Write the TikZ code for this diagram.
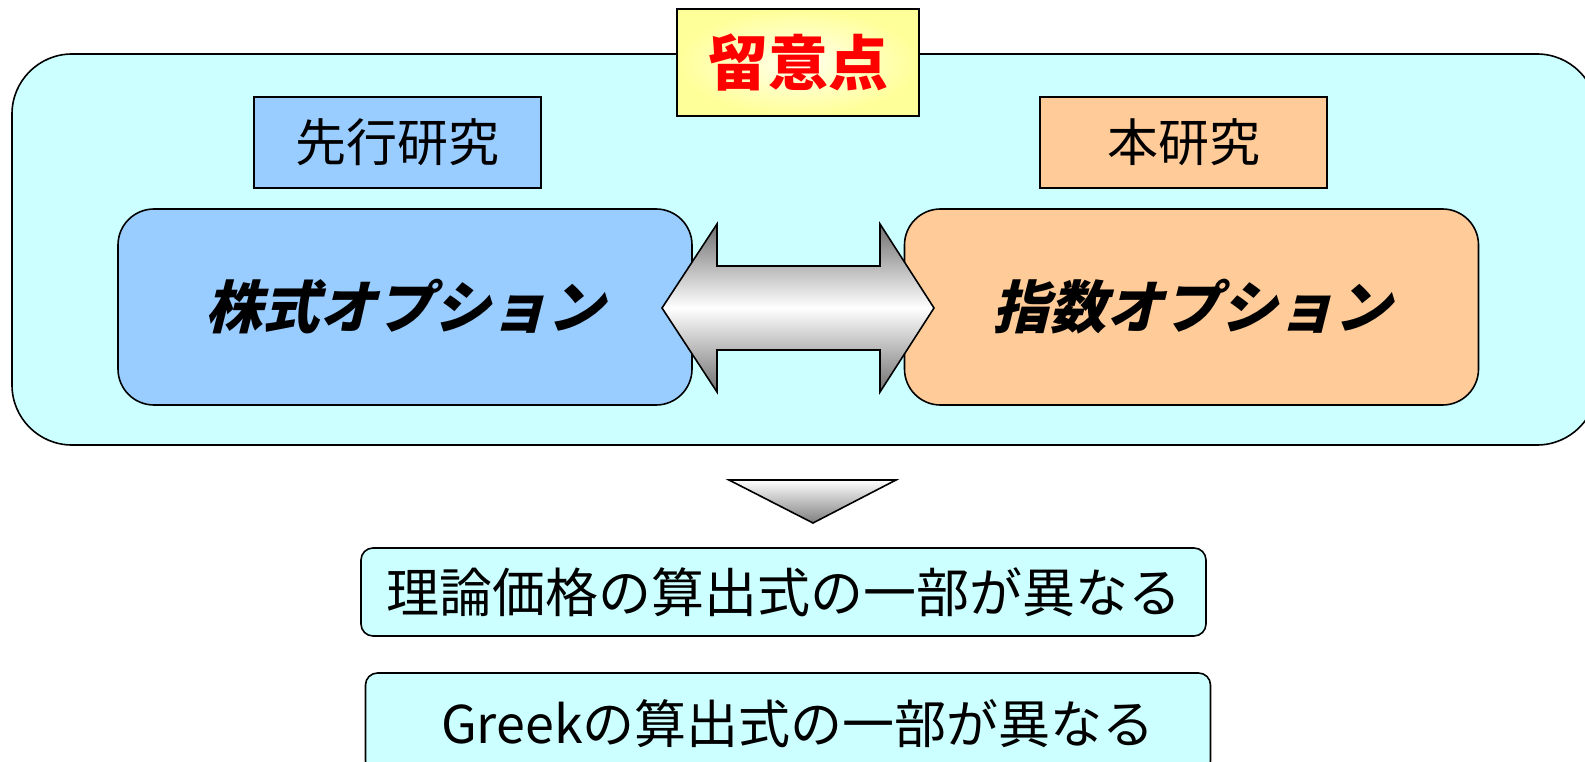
\documentclass[tikz,border=0pt]{standalone}
\usepackage{fontspec}
\newfontfamily\jp{Noto Sans CJK JP}
\newfontfamily\jpit[FakeSlant=0.25]{Noto Sans CJK JP}
\definecolor{outerc}{HTML}{CCFFFF}
\definecolor{bluec}{HTML}{99CCFF}
\definecolor{orangec}{HTML}{FFCC99}
\definecolor{yellowc}{HTML}{FFFF99}
\definecolor{yellowin}{HTML}{FFFFEE}
\definecolor{grayc}{HTML}{707070}
\tikzset{
  base/.style={draw=black, line width=1.6pt, inner sep=0pt, font=\jp},
  labelbox/.style={base, minimum width=287pt, minimum height=91pt, font=\jp\fontsize{51}{55}\selectfont},
  bigbox/.style={base, rounded corners=36pt, minimum width=574pt, minimum height=196pt, font=\jpit\bfseries\fontsize{57}{61}\selectfont},
  resbox/.style={base, fill=outerc, rounded corners=12pt, minimum width=845pt, font=\jp\fontsize{53}{57}\selectfont},
  shapeline/.style={draw=black, line width=1.6pt, line join=miter},
}
\begin{document}
\begin{tikzpicture}[x=1pt, y=-1pt]
\useasboundingbox (0,0) rectangle (1585,762);
\clip (0,0) rectangle (1585,762);
% outer box
\node[base, fill=outerc, rounded corners=60pt, minimum width=1585pt, minimum height=391pt] (outer) at (804.5,249.5) {};
% title
\node[base, inner color=yellowin, outer color=yellowc, minimum width=242pt, minimum height=107pt,
      text=red, font=\jp\bfseries\fontsize{60}{64}\selectfont] (title) at (798,62.5) {留意点};
% labels
\node[labelbox, fill=bluec] (prev) at (397.5,142.5) {先行研究};
\node[labelbox, fill=orangec] (this) at (1183.5,142.5) {本研究};
% big boxes
\node[bigbox, fill=bluec] (stock) at (405,307) {株式オプション};
\node[bigbox, fill=orangec] (index) at (1191.5,307) {指数オプション};
% double arrow
\coordinate (ltip) at (662,308);
\coordinate (rtip) at (934,308);
\path[shapeline, top color=grayc, bottom color=grayc, middle color=white]
  (ltip) -- (717,224) -- (717,266) -- (880,266) -- (880,224) -- (rtip)
  -- (880,392) -- (880,350) -- (717,350) -- (717,392) -- cycle;
% down triangle
\coordinate (tl) at (729,480);
\coordinate (tr) at (896,480);
\coordinate (tb) at (813,523);
\path[shapeline, top color=white, bottom color=grayc!90] (tl) -- (tr) -- (tb) -- cycle;
% result boxes
\node[resbox, minimum height=88pt] (res1) at (783.5,592) {理論価格の算出式の一部が異なる};
\node[resbox, minimum height=100pt] (res2) at (788,723) {};
\node[font=\jp\fontsize{52}{56}\selectfont, inner sep=0pt] (res2t) at ([xshift=10pt,yshift=-1pt]res2.center) {Greekの算出式の一部が異なる};
\end{tikzpicture}
\end{document}
